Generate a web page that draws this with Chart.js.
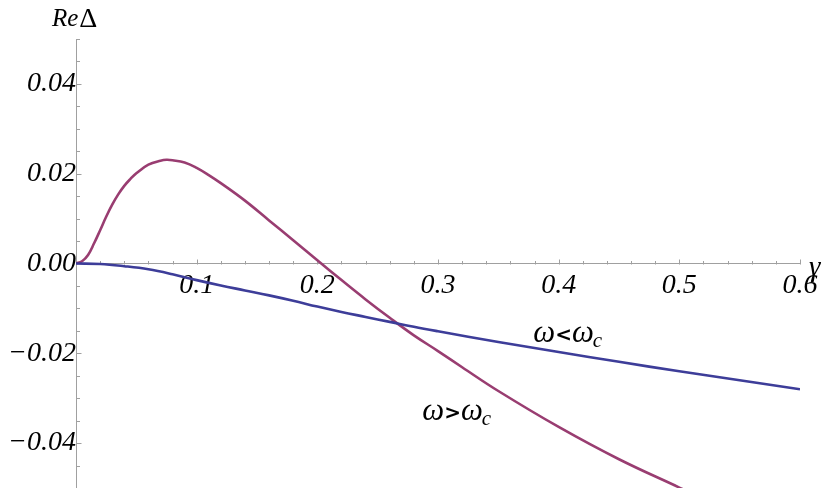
<!DOCTYPE html>
<html><head><meta charset="utf-8">
<script src="https://cdn.jsdelivr.net/npm/chart.js@4.4.0/dist/chart.umd.min.js"></script>
<style>html,body{margin:0;padding:0;background:#fff}#wrap{width:830px;height:488px;position:relative}</style>
</head><body><div id="wrap"><canvas id="c" width="830" height="488"></canvas></div>
<script>
// omega > omega_c (purple)
const gammaUpper = [0, 0.005, 0.01, 0.015, 0.02, 0.025, 0.03, 0.035, 0.04, 0.045, 0.05, 0.06, 0.07, 0.075, 0.08, 0.09, 0.1, 0.11, 0.12, 0.14, 0.16, 0.18, 0.2, 0.22, 0.24, 0.26, 0.28, 0.3, 0.32, 0.35, 0.4, 0.45, 0.5, 0.51];
const reUpper = [0, 0.0005, 0.0019, 0.0045, 0.0074, 0.0104, 0.0131, 0.0154, 0.0173, 0.0188, 0.0201, 0.0220, 0.0229, 0.0231, 0.0230, 0.0225, 0.0213, 0.0197, 0.0179, 0.0140, 0.0096, 0.0052, 0.0007, -0.0037, -0.0080, -0.0121, -0.0160, -0.0195, -0.0231, -0.0284, -0.0364, -0.0436, -0.0499, -0.0512];
// omega < omega_c (blue)
const gammaLower = [0, 0.02, 0.04, 0.06, 0.08, 0.1, 0.12, 0.14, 0.16, 0.18, 0.2, 0.22, 0.24, 0.26, 0.28, 0.3, 0.35, 0.4, 0.45, 0.5, 0.55, 0.6];
const reLower = [0, -0.0001, -0.0006, -0.0013, -0.0024, -0.0037, -0.0049, -0.0060, -0.0071, -0.0083, -0.0096, -0.0108, -0.0119, -0.0130, -0.0141, -0.0151, -0.0175, -0.0197, -0.0219, -0.0240, -0.0260, -0.0280];

const xTicks = [0.1, 0.2, 0.3, 0.4, 0.5, 0.6];
const yTicks = [-0.04, -0.02, 0, 0.02, 0.04];
const xAxisLabel = 'γ';
const yAxisLabelItalic = 'Re';
const yAxisLabelUpright = 'Δ';
const curveLabels = [
  {main: 'ω', rel: '<', sub: 'c', at: [0.379, -0.0175]},
  {main: 'ω', rel: '>', sub: 'c', at: [0.287, -0.0348]}
];

const SERIF = '"Liberation Serif", "DejaVu Serif", serif';
const toXY = (xs, ys) => xs.map((x, i) => ({x: x, y: ys[i]}));
const fmtY = v => {
  const s = Math.abs(v).toFixed(2);
  return v < -1e-9 ? '\u2212' + s : s;
};
const noPad = s => { s.paddingTop = 0; s.paddingBottom = 0; s.paddingLeft = 0; s.paddingRight = 0; };

const axisDeco = {
  id: 'axisDeco',
  beforeDatasetsDraw(chart) {
    const {ctx, scales: {x, y}} = chart;
    const x0 = Math.round(x.getPixelForValue(0)) + 0.5;
    const y0 = Math.round(y.getPixelForValue(0)) + 0.5;
    ctx.save();
    ctx.strokeStyle = '#a0a0a0';
    ctx.lineWidth = 1;
    ctx.beginPath();
    for (let k = 1; k <= 30; k++) {
      const v = k * 0.02;
      const px = Math.round(x.getPixelForValue(v)) + 0.5;
      const len = (k % 5 === 0) ? 5 : 3.5;
      ctx.moveTo(px, y0); ctx.lineTo(px, y0 - len);
    }
    for (let k = -10; k <= 10; k++) {
      if (k === 0) continue;
      const v = k * 0.005;
      const py = Math.round(y.getPixelForValue(v)) + 0.5;
      const len = (k % 4 === 0) ? 5 : 3.5;
      ctx.moveTo(x0, py); ctx.lineTo(x0 + len, py);
    }
    ctx.stroke();
    ctx.restore();
  },
  afterDatasetsDraw(chart) {
    const {ctx, scales: {x, y}} = chart;
    ctx.save();
    ctx.fillStyle = '#000';
    ctx.textBaseline = 'alphabetic';
    ctx.textAlign = 'left';
    // y axis label
    const ly = 26, lx = x.getPixelForValue(0) - 24;
    ctx.font = 'italic 25px ' + SERIF;
    ctx.fillText(yAxisLabelItalic, lx, ly);
    const w1 = ctx.measureText(yAxisLabelItalic).width;
    ctx.font = '28px ' + SERIF;
    ctx.fillText(yAxisLabelUpright, lx + w1 + 1, ly + 1);
    // x axis label
    ctx.font = 'italic 29px ' + SERIF;
    ctx.fillText(xAxisLabel, x.getPixelForValue(0.6) + 9, y.getPixelForValue(0) + 12);
    // curve labels
    curveLabels.forEach(l => {
      let px = x.getPixelForValue(l.at[0]);
      const py = y.getPixelForValue(l.at[1]);
      ctx.font = 'italic 31px ' + SERIF;
      ctx.fillText(l.main, px, py); px += ctx.measureText(l.main).width;
      ctx.font = 'bold 20px "DejaVu Sans", sans-serif';
      ctx.fillText(l.rel, px, py - 1); px += ctx.measureText(l.rel).width;
      ctx.font = 'italic 31px ' + SERIF;
      ctx.fillText(l.main, px, py); px += ctx.measureText(l.main).width;
      ctx.font = 'italic 21px ' + SERIF;
      ctx.fillText(l.sub, px - 1, py + 5);
    });
    ctx.restore();
  }
};

new Chart(document.getElementById('c'), {
  type: 'line',
  data: {
    datasets: [
      {data: toXY(gammaLower, reLower), borderColor: '#3d3d99', borderWidth: 2.6, pointRadius: 0, tension: 0.4, fill: false},
      {data: toXY(gammaUpper, reUpper), borderColor: '#993d71', borderWidth: 2.6, pointRadius: 0, tension: 0.4, fill: false}
    ]
  },
  options: {
    responsive: false,
    animation: false,
    devicePixelRatio: 1,
    layout: {padding: {left: 76, right: 30, top: 39, bottom: 0}},
    plugins: {legend: {display: false}, tooltip: {enabled: false}, title: {display: false}},
    scales: {
      x: {
        type: 'linear', min: 0, max: 0.6,
        position: {y: 0},
        afterBuildTicks: s => { s.ticks = xTicks.map(v => ({value: v})); },
        afterFit: noPad,
        ticks: {autoSkip: false, maxRotation: 0, padding: 5, color: '#000',
          font: {family: SERIF, style: 'italic', size: 28},
          callback: v => (Math.round(v * 10) / 10).toString()},
        grid: {display: true, drawOnChartArea: false, drawTicks: false},
        border: {display: true, color: '#a0a0a0', width: 1}
      },
      y: {
        type: 'linear', min: -0.05, max: 0.05,
        position: {x: 0},
        afterBuildTicks: s => { s.ticks = yTicks.map(v => ({value: v})); },
        afterFit: noPad,
        ticks: {autoSkip: false, padding: 7, color: '#000',
          font: {family: SERIF, style: 'italic', size: 28},
          callback: v => fmtY(v)},
        grid: {display: true, drawOnChartArea: false, drawTicks: false},
        border: {display: true, color: '#a0a0a0', width: 1}
      }
    }
  },
  plugins: [axisDeco]
});
</script>
</body></html>
